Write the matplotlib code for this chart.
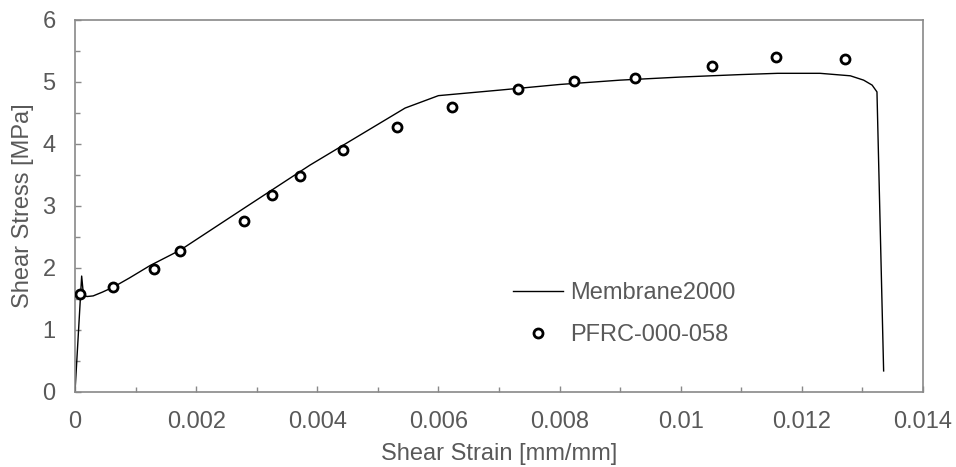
import matplotlib
matplotlib.use("Agg")
import matplotlib.pyplot as plt
from matplotlib.ticker import MultipleLocator

# Simulation curve (Membrane2000)
sim_strain = [0, 0.00011, 0.00014, 0.0002, 0.0003, 0.00045, 0.00063, 0.0009, 0.00124,
              0.00174, 0.0028, 0.00388, 0.00545, 0.0060, 0.00702, 0.0080, 0.0090,
              0.0100, 0.0110, 0.0116, 0.0123, 0.0128, 0.01302, 0.01316, 0.01324, 0.01335]
sim_stress = [0, 1.87, 1.56, 1.54, 1.55, 1.61, 1.69, 1.84, 2.04,
              2.29, 2.97, 3.66, 4.58, 4.78, 4.87, 4.96, 5.03,
              5.08, 5.12, 5.14, 5.14, 5.10, 5.03, 4.95, 4.84, 0.34]

# Experimental points (PFRC-000-058)
exp_strain = [0.00008, 0.00063, 0.00131, 0.00174, 0.00279, 0.00326, 0.00372, 0.00443,
              0.00531, 0.00623, 0.00731, 0.00823, 0.00925, 0.01051, 0.01158, 0.01272]
exp_stress = [1.58, 1.70, 1.99, 2.27, 2.76, 3.18, 3.48, 3.90,
              4.27, 4.60, 4.89, 5.02, 5.07, 5.26, 5.40, 5.37]

labels = ["Membrane2000", "PFRC-000-058"]
x_ticks = [0, 0.002, 0.004, 0.006, 0.008, 0.01, 0.012, 0.014]
x_tick_labels = ["0", "0.002", "0.004", "0.006", "0.008", "0.01", "0.012", "0.014"]
y_ticks = [0, 1, 2, 3, 4, 5, 6]

plt.rcParams['font.family'] = ['Liberation Sans', 'DejaVu Sans']
FS = 17
TXT = '#595959'
SP = '#898989'

fig = plt.figure(figsize=(9.56, 4.67), dpi=100)
ax = fig.add_axes([75/956, 1 - 392/467, 848/956, 372/467])

ax.plot(sim_strain, sim_stress, color='black', lw=1.0, label=labels[0], zorder=2)
ax.plot(exp_strain, exp_stress, linestyle='none', marker='o', ms=6.5, mew=2.0,
        mfc='white', mec='black', label=labels[1], zorder=3)

ax.set_xlim(0, 0.014)
ax.set_ylim(0, 6)
ax.set_xticks(x_ticks)
ax.set_xticklabels(x_tick_labels)
ax.set_yticks(y_ticks)
ax.xaxis.set_minor_locator(MultipleLocator(0.001))
ax.yaxis.set_minor_locator(MultipleLocator(0.5))

for s in ax.spines.values():
    s.set_color(SP)
    s.set_linewidth(1.2)

ax.tick_params(which='both', direction='in', color=SP, width=1.0, labelsize=FS,
               labelcolor=TXT, top=False, right=False)
ax.tick_params(which='major', length=4.3)
ax.tick_params(which='minor', length=3.6)
ax.tick_params(axis='x', which='major', pad=14)
ax.tick_params(axis='y', which='major', pad=14)

ax.set_xlabel("Shear Strain [mm/mm]", fontsize=FS, color=TXT, labelpad=7)
ax.set_ylabel("Shear Stress [MPa]", fontsize=FS, color=TXT, labelpad=6)

leg = ax.legend(loc='upper left', bbox_to_anchor=((513-75)/848, (392-282)/372),
                frameon=False, fontsize=FS, handlelength=2.1, handletextpad=0.3,
                labelspacing=0.85, borderpad=0, borderaxespad=0)
for t in leg.get_texts():
    t.set_color(TXT)

fig.savefig("out.png", dpi=100)
